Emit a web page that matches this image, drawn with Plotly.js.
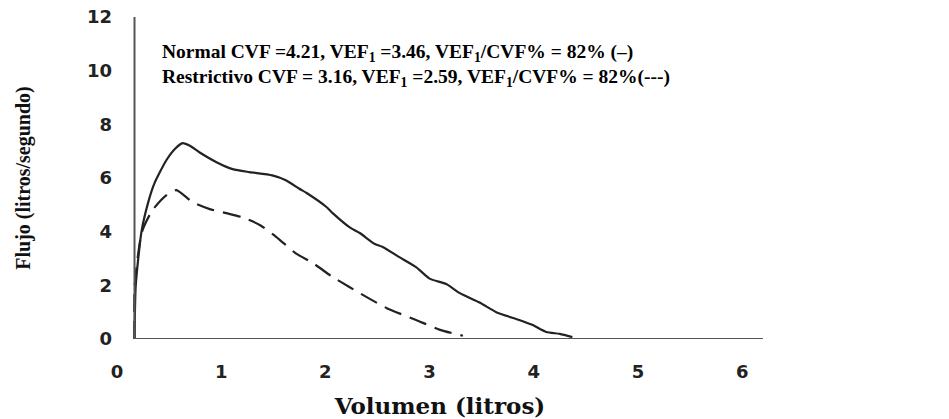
<!DOCTYPE html>
<html>
<head>
<meta charset="utf-8">
<script src="https://cdn.plot.ly/plotly-3.0.1.min.js"></script>
<style>html,body{margin:0;padding:0;background:#fff;}#chart{width:949px;height:419px;}</style>
</head>
<body>
<div id="chart"></div>
<script>
// Normal curve (solid)
const normalVol  = [0.168, 0.18, 0.235, 0.30, 0.36, 0.475, 0.56, 0.63, 0.70, 0.79, 0.955, 1.11, 1.27, 1.49, 1.62, 1.75, 1.82, 2.01, 2.07, 2.23, 2.33, 2.47, 2.55, 2.71, 2.87, 3.00, 3.16, 3.29, 3.48, 3.64, 3.86, 3.99, 4.12, 4.25, 4.37];
const normalFlow = [0.0,   2.0,  4.0,   5.1,  5.81, 6.67,  7.1,  7.3,  7.2,  6.96, 6.59,  6.33, 6.22, 6.10, 5.92, 5.60, 5.44, 4.92, 4.69, 4.17, 3.95, 3.55, 3.43, 3.05, 2.68, 2.25, 2.05, 1.71, 1.36, 1.0,  0.71, 0.52, 0.26, 0.19, 0.07];
// Restrictive curve (dashed)
const restrVol  = [0.168, 0.17, 0.24, 0.34, 0.475, 0.57, 0.725, 0.89, 1.05, 1.20, 1.37, 1.53, 1.72, 1.88, 2.07, 2.23, 2.33, 2.59, 2.87, 3.10, 3.32];
const restrFlow = [0.0,   2.0,  4.0,  4.8,  5.36,  5.55, 5.10,  4.84, 4.69, 4.54, 4.25, 3.80, 3.18, 2.83, 2.31, 1.94, 1.71, 1.15, 0.71, 0.34, 0.12];

const xTicks = [0, 1, 2, 3, 4, 5, 6];
const yTicks = [0, 2, 4, 6, 8, 10, 12];
const line1 = "Normal CVF =4.21, VEF<sub>1</sub> =3.46, VEF<sub>1</sub>/CVF% = 82% (–)";
const line2 = "Restrictivo CVF = 3.16, VEF<sub>1</sub> =2.59, VEF<sub>1</sub>/CVF% = 82%(---)";

const AXIS_X0 = 0.168;
const X_MAX = 6.2, Y_MAX = 12;

const traces = [
  {x: normalVol, y: normalFlow, mode: 'lines', line: {color: '#222', width: 2.2, shape: 'spline', smoothing: 0.6}, name: 'Normal', hoverinfo: 'x+y'},
  {x: restrVol, y: restrFlow, mode: 'lines', line: {color: '#222', width: 2.2, dash: '18px,9px', shape: 'spline', smoothing: 0.6}, name: 'Restrictivo', hoverinfo: 'x+y'}
];

const layout = {
  width: 949, height: 419,
  margin: {l: 117, r: 186, t: 17, b: 80},
  paper_bgcolor: '#fff', plot_bgcolor: '#fff',
  showlegend: false,
  xaxis: {
    range: [0, X_MAX], tickvals: xTicks, ticktext: xTicks.map(String),
    showgrid: false, zeroline: false, showline: false, ticks: '',
    ticklabelstandoff: 20,
    tickfont: {family: 'DejaVu Sans', size: 18, color: '#222', weight: 'bold'},
    title: {text: '<b>Volumen (litros)</b>', font: {family: 'DejaVu Serif', size: 23, color: '#111'}, standoff: 16}
  },
  yaxis: {
    range: [0, Y_MAX], tickvals: yTicks, ticktext: yTicks.map(String),
    showgrid: false, zeroline: false, showline: false, ticks: '',
    ticklabelstandoff: 4,
    tickfont: {family: 'DejaVu Sans', size: 18, color: '#222', weight: 'bold'},
    title: {text: '<b>Flujo (litros/segundo)</b>', font: {family: 'Liberation Serif', size: 20, color: '#111'}, standoff: 50}
  },
  shapes: [
    {type: 'line', xref: 'x', yref: 'y', x0: AXIS_X0, x1: AXIS_X0, y0: 0, y1: Y_MAX, line: {color: '#555', width: 2}},
    {type: 'line', xref: 'x', yref: 'y', x0: AXIS_X0, x1: X_MAX, y0: 0, y1: 0, line: {color: '#555', width: 2}}
  ],
  annotations: [
    {xref: 'paper', yref: 'paper', x: 0.066, y: 0.85, xanchor: 'left', yanchor: 'middle', showarrow: false, align: 'left',
     text: '<b>' + line1 + '<br>' + line2 + '</b>', font: {family: 'Liberation Serif', size: 19.5, color: '#000'}}
  ]
};

Plotly.newPlot('chart', traces, layout, {displayModeBar: false, staticPlot: true});
</script>
</body>
</html>
